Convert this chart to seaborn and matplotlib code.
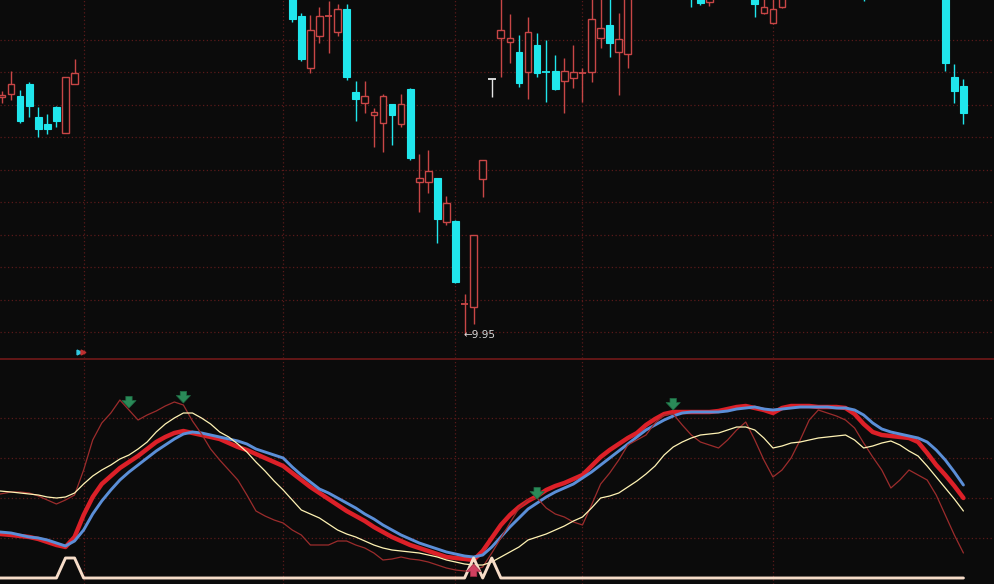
import matplotlib
matplotlib.use("Agg")
import matplotlib.pyplot as plt
import numpy as np
import pandas as pd
import seaborn as sns
from matplotlib.patches import Rectangle
from matplotlib.lines import Line2D

sns.set_theme(style="dark")
plt.rcParams['font.family'] = ['DejaVu Sans']

# ---------------- data ----------------
opens = [13.62, 13.66, 13.63, 13.82, 13.31, 13.20, 13.46, 13.06, 13.82, 15.30,
         15.60, 16.00, 16.50, 17.10, 16.70, 16.30, 16.60, 17.20, 17.40, 17.70,
         17.40, 16.90, 16.30, 16.40, 15.90, 16.00, 15.60, 15.80, 15.40, 15.60,
         15.40, 15.80, 15.50, 14.86, 14.06, 14.55, 14.85, 14.62, 14.97, 13.69,
         13.52, 13.34, 13.22, 13.51, 13.20, 13.74, 12.31, 12.31, 12.37, 11.69,
         11.71, 10.42, 10.38, 12.35, 13.89, 14.52, 14.46, 14.31, 14.00, 14.42,
         14.00, 14.02, 13.86, 13.91, 13.97, 14.00, 14.52, 14.72, 14.31, 14.28,
         15.40, 15.90, 16.20, 16.60, 17.00, 16.50, 15.60, 15.20, 15.08, 15.30,
         15.70, 15.50, 15.80, 15.40, 14.91, 14.75, 15.00, 15.40, 15.80, 16.00,
         16.30, 16.10, 15.90, 16.20, 15.90, 15.50, 15.30, 15.50, 15.70, 15.40,
         15.80, 15.70, 15.40, 15.30, 15.20, 13.92, 13.78]
highs = [13.71, 14.02, 13.72, 13.85, 13.46, 13.35, 13.47, 13.93, 14.20, 15.38,
         16.20, 16.60, 17.20, 17.60, 16.90, 16.80, 17.30, 17.60, 17.90, 18.00,
         17.60, 17.00, 16.60, 16.50, 16.20, 16.10, 15.90, 16.00, 15.70, 15.80,
         15.90, 16.00, 15.60, 14.91, 14.88, 15.00, 15.09, 15.05, 15.05, 13.86,
         13.86, 13.45, 13.66, 13.51, 13.66, 13.75, 12.74, 12.80, 12.37, 12.09,
         11.72, 10.58, 11.49, 12.65, 13.89, 15.25, 14.89, 14.57, 14.85, 14.60,
         14.49, 14.26, 14.22, 14.42, 14.06, 15.30, 15.30, 15.20, 14.91, 15.60,
         16.00, 16.40, 16.80, 17.20, 17.30, 16.70, 15.90, 15.40, 15.50, 15.80,
         16.00, 15.90, 16.10, 15.60, 15.20, 15.20, 15.60, 15.90, 16.20, 16.50,
         16.60, 16.40, 16.30, 16.40, 16.00, 15.70, 15.60, 15.90, 15.80, 15.90,
         16.10, 15.80, 15.60, 15.50, 15.30, 14.12, 13.89]
lows = [13.52, 13.57, 13.22, 13.31, 13.00, 13.05, 13.15, 13.06, 13.82, 15.20,
        15.50, 15.80, 16.30, 16.60, 16.00, 16.10, 16.50, 16.90, 17.20, 17.30,
        16.80, 16.20, 16.00, 15.80, 15.60, 15.50, 15.40, 15.30, 15.25, 15.30,
        15.30, 15.40, 14.77, 14.17, 13.98, 14.45, 14.29, 14.55, 13.88, 13.25,
        13.37, 12.85, 12.77, 12.88, 13.15, 12.65, 11.85, 12.14, 11.37, 11.65,
        10.76, 9.95, 10.12, 12.08, 13.62, 13.92, 14.14, 13.77, 13.58, 13.92,
        13.54, 13.72, 13.37, 13.75, 13.54, 13.85, 14.37, 14.23, 13.65, 14.06,
        15.30, 15.70, 16.00, 16.40, 16.30, 15.80, 15.00, 15.03, 15.02, 15.20,
        15.40, 15.30, 15.40, 14.85, 14.90, 14.74, 14.99, 15.30, 15.60, 15.90,
        16.00, 15.80, 15.70, 15.80, 15.40, 15.09, 15.20, 15.40, 15.30, 15.30,
        15.60, 15.30, 15.20, 15.15, 14.02, 13.52, 13.20]
closes = [13.65, 13.82, 13.25, 13.48, 13.12, 13.12, 13.25, 13.92, 13.98, 15.38,
          16.00, 16.40, 17.00, 16.80, 16.20, 16.60, 17.10, 17.40, 17.70, 17.50,
          16.90, 16.30, 16.40, 15.90, 16.00, 15.60, 15.80, 15.40, 15.60, 15.35,
          15.80, 15.50, 14.82, 14.20, 14.65, 14.86, 14.86, 14.97, 13.92, 13.58,
          13.63, 13.38, 13.63, 13.34, 13.51, 12.68, 12.37, 12.48, 11.74, 11.98,
          10.77, 10.43, 11.49, 12.65, 13.89, 14.65, 14.52, 13.83, 14.62, 13.98,
          13.99, 13.74, 14.02, 14.00, 13.99, 14.82, 14.68, 14.45, 14.51, 15.40,
          15.90, 16.20, 16.60, 17.00, 16.50, 16.00, 15.40, 15.06, 15.30, 15.70,
          15.50, 15.80, 15.50, 15.05, 15.00, 14.97, 15.40, 15.80, 16.00, 16.30,
          16.10, 15.90, 16.20, 15.90, 15.50, 15.30, 15.50, 15.70, 15.40, 15.80,
          15.70, 15.40, 15.30, 15.20, 14.14, 13.71, 13.37]

line_thick_red = [22, 21.5, 21, 20.5, 19.5, 18, 16.5, 15.5, 20.5, 31.5,
                  40.5, 47, 51, 55, 58, 61, 64.5, 68, 70.5, 72.5,
                  73.5, 72.5, 71.5, 70.5, 69.5, 67.5, 65.5, 64, 62, 60,
                  58, 56, 52.5, 49, 45.5, 42.5, 39.5, 36.5, 33.5, 31,
                  28.5, 25.5, 23, 20.5, 18.5, 16.5, 15, 13.5, 12, 10.5,
                  10, 9.5, 9, 13.5, 20, 26.5, 31.5, 35.5, 38.5, 41,
                  44, 46, 47.5, 49.5, 51.5, 56, 60.5, 64, 67, 70,
                  72.5, 76.5, 79.5, 82, 83, 83, 83, 83, 83, 83.5,
                  84.5, 85.5, 86, 85, 84, 82.5, 85, 86, 86, 86,
                  85.5, 85.5, 85.5, 85, 82, 77, 73, 71.5, 71, 70.5,
                  70, 68, 62.5, 56.5, 51.5, 46, 40]
line_blue = [23, 22.5, 21.5, 20.5, 20, 19, 17.5, 16, 18.5, 24,
             32, 38.5, 44, 49, 53, 56.5, 60, 63.5, 66.5, 69.5,
             72, 73, 72.5, 71.5, 70.5, 69.5, 68.5, 67, 64.5, 63,
             61.5, 60, 55.5, 51.5, 48, 44.5, 42.5, 40, 37.5, 35,
             32, 29.5, 26.5, 24, 21.5, 19.5, 17.5, 16, 14.5, 13,
             12, 11, 10.5, 11.5, 15.5, 20.5, 25.5, 30, 34.5, 37.5,
             40.5, 43, 45, 47, 50, 53, 56.5, 60, 63.5, 67,
             70.5, 74, 76.5, 79, 81, 82.5, 83, 83, 83, 83,
             83.5, 84.5, 85, 85.5, 84.5, 84, 84.5, 85, 85.5, 85.5,
             85.5, 85.5, 85, 85, 84, 81.5, 77.5, 74.5, 73, 72,
             71, 70, 68, 64, 59, 53, 46.5]
line_yellow = [43.5, 43, 42.5, 42, 41.5, 40.5, 40, 40.5, 42.5, 47,
               51, 54, 56.5, 59.5, 61.5, 64.5, 68, 73, 77, 80,
               82.5, 82.5, 80, 77, 73, 70.5, 67, 63, 58, 53.5,
               48.5, 44, 39, 34, 32, 30, 27, 24, 22, 20.5,
               18.5, 16.5, 15, 14, 13.5, 13, 12.5, 11.5, 10.5, 9,
               8, 7, 6.5, 6.5, 8, 10.5, 13, 15.5, 19, 20.5,
               22, 24, 26, 28.5, 30.5, 35, 40, 41, 42.5, 45.5,
               48.5, 52, 56, 61.5, 65.5, 68, 70, 71.5, 72, 72.5,
               74, 75.5, 75.5, 74, 70, 65, 66, 67.5, 68, 69,
               70, 70.5, 71, 71.5, 69, 65, 66, 67.5, 68.5, 66.5,
               63.5, 61, 56, 50.5, 45, 39.5, 33.5]
line_dark_red = [42, 43, 43, 42.5, 41, 39, 37, 39, 41.5, 54,
                 69, 77.5, 82.5, 89, 84, 79, 81.5, 83.5, 86, 88,
                 86.5, 78.5, 72, 64.5, 59, 54, 49, 41.5, 33.5, 31,
                 29, 27.5, 24, 21.5, 16.5, 16.5, 16.5, 18.5, 18.5, 16.5,
                 15, 12.5, 9, 9.5, 10.5, 9.5, 9, 8, 6.5, 5,
                 4, 3.5, 4, 5.5, 12.5, 20, 27.5, 35, 39, 40,
                 35, 32, 30.5, 28, 26.5, 36.5, 47, 52.5, 59, 66.5,
                 69, 71.5, 77.5, 81.5, 82, 76.5, 71.5, 68, 66.5, 65,
                 69, 74, 78, 69, 59, 50.5, 54, 60, 69, 79,
                 84, 82.5, 81, 79, 75, 67.5, 60.5, 54, 45, 49,
                 54, 51.5, 49, 41.5, 31.5, 21.5, 12.5]
signal = [0] * 107
for k in (7, 8, 52, 54):
    signal[k] = 10

sell_idx = [14, 20, 59, 74]
sell_val = [85, 87.5, 39.5, 84]
buy_idx = [52]
low_label = "←9.95"
month_idx = [9, 31, 50, 64, 85]

# ---------------- styling ----------------
BG = '#0b0b0b'
UP = '#c84646'
DOWN = '#20e6ec'
FLAT = '#e6e6e6'
GRID = '#5a1a1a'

W, H = 995, 584
fig = plt.figure(figsize=(W / 100, H / 100), dpi=100, facecolor=BG)

x_lo = -2 / 9.07
x_hi = (W - 2) / 9.07

ax = fig.add_axes([0, 1 - 358 / H, 1, 358 / H])
ax2 = fig.add_axes([0, 0, 1, 224 / H])
for a in (ax, ax2):
    a.set_facecolor(BG)
    a.set_xlim(x_lo, x_hi)
    for s in a.spines.values():
        s.set_visible(False)
    a.set_xticks([])
    a.set_yticks([])
    a.grid(False)

ax.set_ylim(9.6, 15.108)
ax2.set_ylim(-3, 109)

# gridlines
for g in np.arange(10.0, 14.51, 0.5):
    ax.axhline(g, color=GRID, lw=0.9, ls=(0, (1, 2)), zorder=0)
for g in (20, 40, 60, 80):
    ax2.axhline(g, color=GRID, lw=0.9, ls=(0, (1, 2)), zorder=0)
for m in month_idx:
    ax.axvline(m, color=GRID, lw=0.9, ls=(0, (1, 2)), zorder=0)
    ax2.axvline(m, color=GRID, lw=0.9, ls=(0, (1, 2)), zorder=0)

# candles
bw = 0.74
for i, (o, h, l, c) in enumerate(zip(opens, highs, lows, closes)):
    col = UP if c > o else (DOWN if c < o else FLAT)
    top, bot = max(o, c), min(o, c)
    if top - bot < 0.02:
        ax.vlines(i, l, h, color=col, lw=1.0, zorder=3)
        ax.hlines((o + c) / 2, i - bw / 2 - 0.05, i + bw / 2 + 0.05, color=col, lw=1.3, zorder=3)
    elif c > o:
        ax.vlines(i, top, h, color=col, lw=1.0, zorder=3)
        ax.vlines(i, l, bot, color=col, lw=1.0, zorder=3)
        ax.add_patch(Rectangle((i - bw / 2, bot), bw, top - bot, facecolor=BG,
                               edgecolor=col, lw=1.0, zorder=3))
    else:
        ax.vlines(i, l, h, color=col, lw=1.0, zorder=3)
        ax.add_patch(Rectangle((i - bw / 2, bot), bw, top - bot, facecolor=col,
                               edgecolor=col, lw=0.8, zorder=4))

lo_i = int(np.argmin(lows))
ax.text(lo_i - 0.1, lows[lo_i], low_label, color='#d8d8d8', fontsize=7.5,
        ha='left', va='center', zorder=5)

# separator & icon
fig.add_artist(Line2D([0, 1], [1 - 358.5 / H, 1 - 358.5 / H], color='#7a1a1a', lw=1.1))
ax.plot([8.45], [9.69], marker='>', color='#30c8e0', ms=3.5, clip_on=False, zorder=6)
ax.plot([8.9], [9.69], marker='>', color='#c03030', ms=3.5, clip_on=False, zorder=6)

# indicator lines
idx = np.arange(len(line_thick_red))
df = pd.DataFrame({'i': idx, 'red': line_thick_red, 'blue': line_blue,
                   'yellow': line_yellow, 'dred': line_dark_red, 'sig': signal})
xs = df['i'].astype(float).copy()
xs.iloc[0] = x_lo
sns.lineplot(x=xs, y=df['red'], ax=ax2, color='#dc2028', linewidth=3.2, zorder=3)
sns.lineplot(x=xs, y=df['blue'], ax=ax2, color='#5b8fd8', linewidth=2.1, zorder=4)
sns.lineplot(x=xs, y=df['dred'], ax=ax2, color='#9c2c2c', linewidth=0.9, zorder=5)
sns.lineplot(x=xs, y=df['yellow'], ax=ax2, color='#fff3b4', linewidth=0.9, zorder=5)
sns.lineplot(x=xs, y=df['sig'], ax=ax2, color='#f6dcc8', linewidth=2.1, zorder=6)
ax2.set_xlabel('')
ax2.set_ylabel('')
ax2.set_xlim(x_lo, x_hi)
ax2.set_ylim(-3, 109)

astyle = 'simple,head_length=0.45,head_width=0.85,tail_width=0.38'
for xi, v in zip(sell_idx, sell_val):
    ax2.annotate('', xy=(xi, v), xytext=(xi, v + 5.8),
                 arrowprops=dict(arrowstyle=astyle, fc='#2a8a58', ec='#1d6a42', lw=0.5,
                                 shrinkA=0, shrinkB=0), zorder=7)
for xi in buy_idx:
    ax2.annotate('', xy=(xi, 7.0), xytext=(xi, 0.8),
                 arrowprops=dict(arrowstyle=astyle, fc='#d04060', ec='#a83048', lw=0.5,
                                 shrinkA=0, shrinkB=0), zorder=7)

fig.savefig('out.png', dpi=100, facecolor=BG)
